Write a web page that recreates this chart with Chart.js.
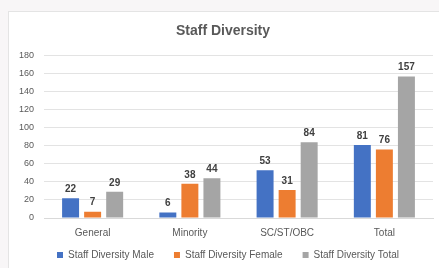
<!DOCTYPE html>
<html>
<head>
<meta charset="utf-8">
<script src="https://cdn.jsdelivr.net/npm/chart.js@4"></script>
<style>
  html, body { margin: 0; padding: 0; background: #f8f6f7; overflow: hidden; }
  #box {
    position: absolute; left: 8px; top: 11px; width: 431px; height: 272px;
    background: #ffffff; border-left: 1px solid #e4e4e4; border-top: 1px solid #e4e4e4;
    box-sizing: border-box;
  }
  canvas { display: block; }
</style>
</head>
<body>
<div id="box"><canvas id="staffChart" width="430" height="268"></canvas></div>
<script>
// staff diversity chart

const categories = ['General', 'Minority', 'SC/ST/OBC', 'Total'];
const maleValues = [22, 6, 53, 81];
const femaleValues = [7, 38, 31, 76];
const totalValues = [29, 44, 84, 157];
const seriesNames = ['Staff Diversity Male', 'Staff Diversity Female', 'Staff Diversity Total'];
const yTicks = [0, 20, 40, 60, 80, 100, 120, 140, 160, 180];

const FONT = "'Liberation Sans', 'Open Sans', sans-serif";

// numbers above each bar
const barLabels = {
    id: 'barLabels',
    afterDatasetsDraw(chart) {
        const ctx = chart.ctx;
        ctx.save();
        ctx.font = `bold 10px ${FONT}`;
        ctx.fillStyle = '#404040';
        ctx.textAlign = 'center';
        ctx.textBaseline = 'bottom';
        chart.data.datasets.forEach((ds, i) => {
            chart.getDatasetMeta(i).data.forEach((bar, j) => {
                ctx.fillText(ds.data[j], bar.x, bar.y - 4);
            });
        });
        ctx.restore();
    }
};

// legend padding is wide for the gaps between items, so lift it a bit
const liftLegend = {
    id: 'liftLegend',
    afterLayout(chart) {
        const lg = chart.legend;
        lg.top -= 10;
        lg.bottom -= 10;
        lg.left += 5;
        lg.right += 5;
    }
};

new Chart(document.getElementById('staffChart').getContext('2d'), {
    type: 'bar',
    data: {
        labels: categories,
        datasets: [
            { label: seriesNames[0], data: maleValues, backgroundColor: '#4472C4' },
            { label: seriesNames[1], data: femaleValues, backgroundColor: '#ED7D31' },
            { label: seriesNames[2], data: totalValues, backgroundColor: '#A5A5A5' }
        ]
    },
    options: {
        responsive: false,
        animation: false,
        categoryPercentage: 0.68,
        barPercentage: 0.77,
        layout: { padding: { left: 4, right: 6, top: 0, bottom: 0 } },
        plugins: {
            title: {
                display: true,
                text: 'Staff Diversity',
                color: '#595959',
                font: { family: FONT, size: 14, weight: 'bold' },
                padding: { top: 11, bottom: 16 }
            },
            legend: {
                position: 'bottom',
                labels: {
                    color: '#595959',
                    font: { family: FONT, size: 10 },
                    boxWidth: 6,
                    boxHeight: 6,
                    padding: 20
                }
            },
            tooltip: { enabled: false }
        },
        scales: {
            x: {
                grid: { display: false },
                border: { color: '#d9d9d9' },
                ticks: { color: '#595959', font: { family: FONT, size: 10 }, padding: 1 }
            },
            y: {
                min: 0,
                max: 180,
                afterBuildTicks: axis => { axis.ticks = yTicks.map(v => ({ value: v })); },
                afterFit: axis => { axis.width = 31; },
                grid: { color: '#e3e3e3', drawTicks: false },
                border: { display: false },
                ticks: { color: '#595959', font: { family: FONT, size: 9 }, padding: 10 }
            }
        }
    },
    plugins: [barLabels, liftLegend]
});
</script>
</body>
</html>
